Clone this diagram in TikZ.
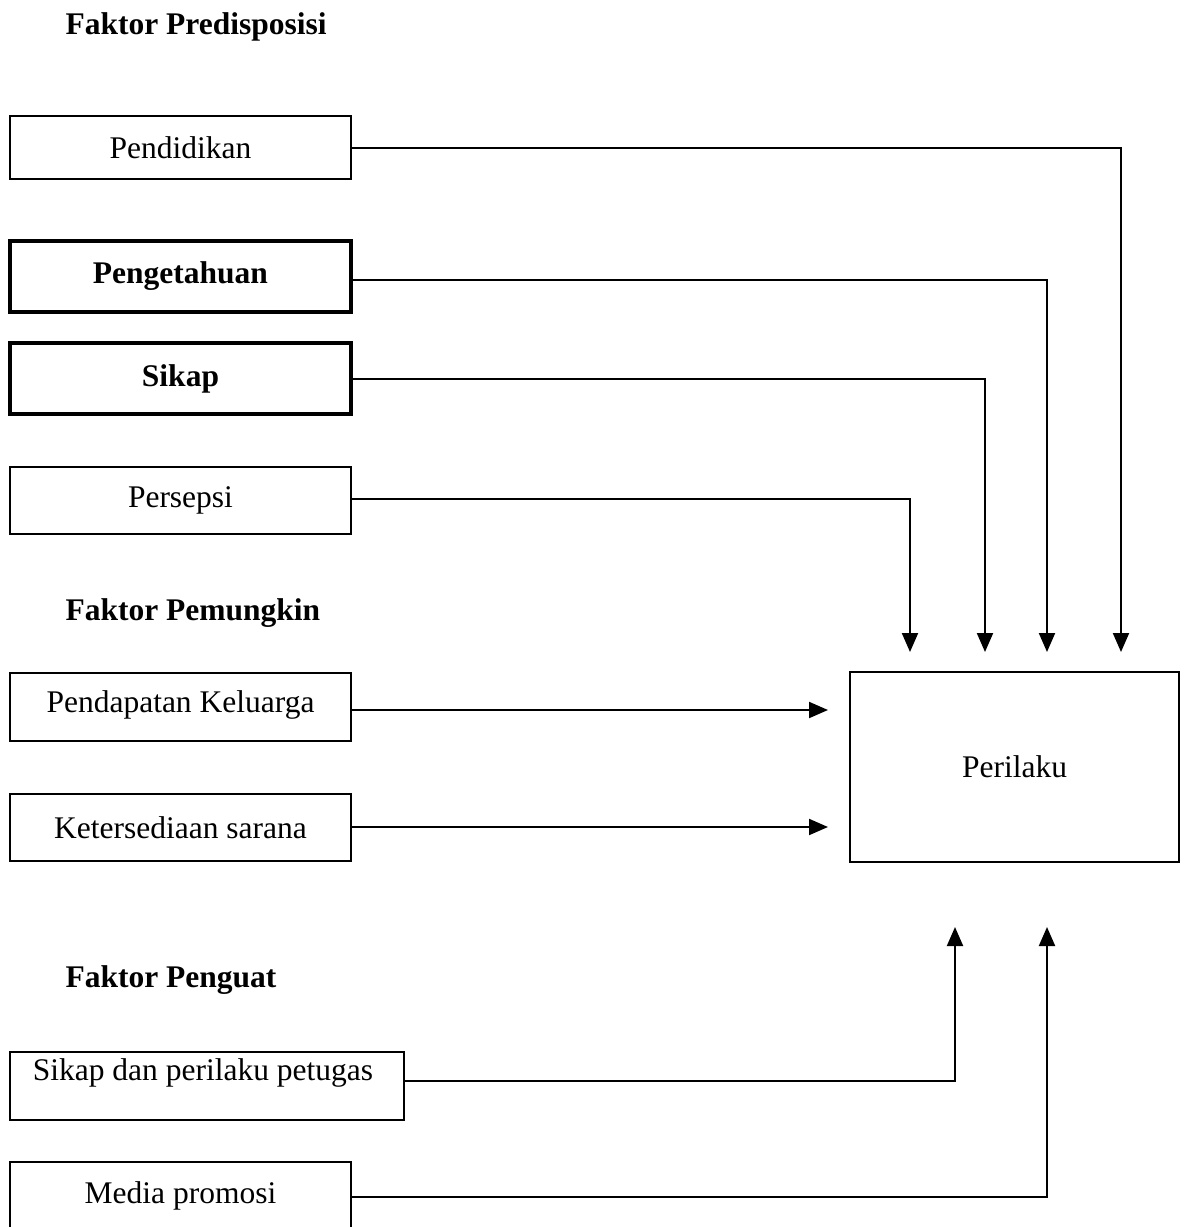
\documentclass[tikz,border=0pt]{standalone}
\usepackage{fontspec}
\setmainfont{Liberation Serif}
\usetikzlibrary{arrows.meta}
\begin{document}
\begin{tikzpicture}[x=1pt,y=-1pt,
  every node/.style={font=\fontsize{31.5}{36}\selectfont},
  box/.style={draw, line width=2pt, rectangle, inner sep=0pt, minimum width=341pt},
  thickbox/.style={box, line width=3.6pt},
  head/.style={anchor=west, font=\fontsize{31.5}{36}\selectfont\bfseries},
  conn/.style={line width=2pt, -{Triangle[width=16pt,length=19pt]}}]
\useasboundingbox[fill=white] (0,0) rectangle (1189,1227);

\node[head] (h1) at (62,27) {Faktor Predisposisi};
\node[head] (h2) at (62,613) {Faktor Pemungkin};
\node[head] (h3) at (62,980) {Faktor Penguat};

\node[box, minimum height=63pt] (pend) at (180.5,147.5) {Pendidikan};
\node[thickbox, minimum height=71pt, font=\fontsize{31.5}{36}\selectfont\bfseries] (peng) at (180.5,276.5) {Pengetahuan};
\node[thickbox, minimum height=71pt, font=\fontsize{31.5}{36}\selectfont\bfseries] (sik) at (180.5,378.5) {Sikap};
\node[box, minimum height=67pt] (pers) at (180.5,500.5) {Persepsi};

\node[box, minimum height=68pt, label={[yshift=2pt]center:Pendapatan Keluarga}] (pk) at (180.5,707) {};
\node[box, minimum height=67pt] (ks) at (180.5,827.5) {Ketersediaan sarana};

\node[box, minimum width=329pt, minimum height=190pt] (peri) at (1014.5,767) {Perilaku};

\node[box, minimum width=394pt, minimum height=68pt, label={[yshift=13pt, xshift=-4pt]center:Sikap dan perilaku petugas}] (sp) at (207,1086) {};
\node[box, minimum height=76pt, label={[yshift=4pt]center:Media promosi}] (mp) at (180.5,1200) {};

\coordinate (t1) at (1121,652);
\coordinate (t2) at (1047,652);
\coordinate (t3) at (985,652);
\coordinate (t4) at (910,652);
\coordinate (t5) at (828,710);
\coordinate (t6) at (828,827);
\coordinate (t7) at (955,927);
\coordinate (t8) at (1047,927);

\draw[conn] (pend.east) -| (t1);
\draw[conn] (peng.east |- 0,280) -| (t2);
\draw[conn] (sik.east) -| (t3);
\draw[conn] (pers.east |- 0,499) -| (t4);
\draw[conn] (pk.east |- t5) -- (t5);
\draw[conn] (ks.east |- t6) -- (t6);
\draw[conn] (sp.east |- 0,1081) -| (t7);
\draw[conn] (mp.east |- 0,1197) -| (t8);
\end{tikzpicture}
\end{document}
